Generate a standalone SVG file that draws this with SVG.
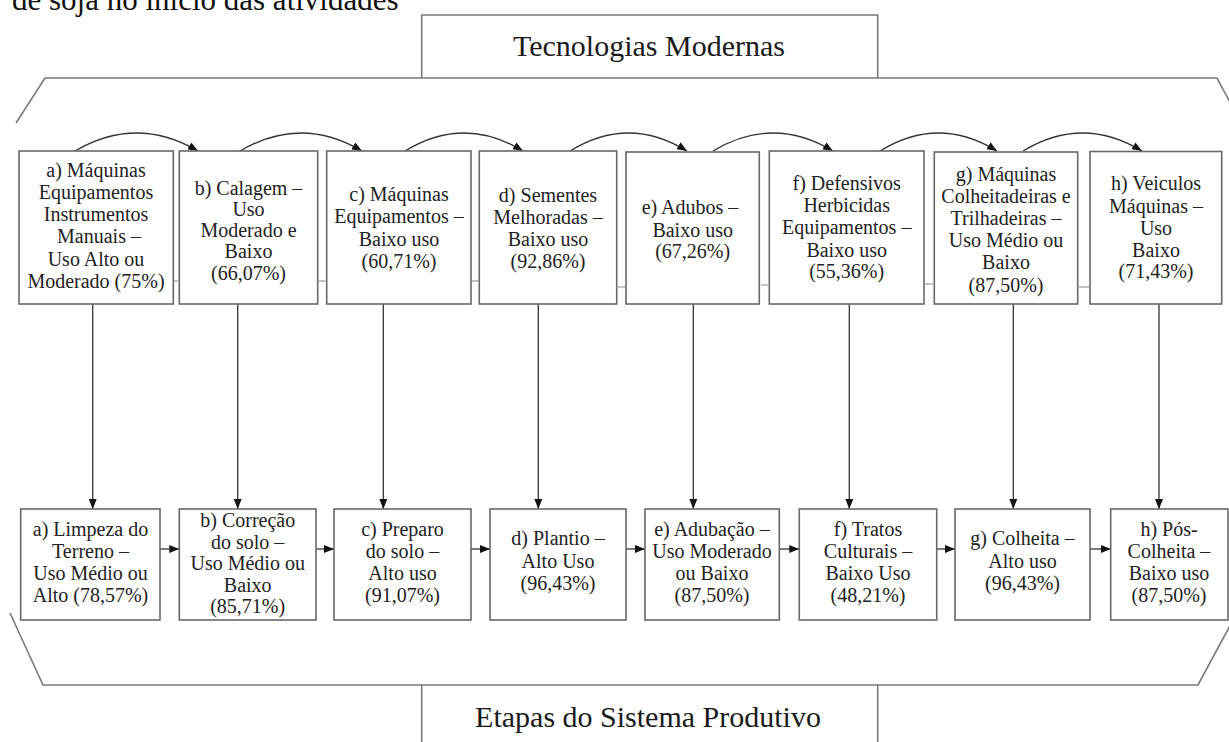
<svg xmlns="http://www.w3.org/2000/svg" width="1229" height="742" viewBox="0 0 1229 742">
  <defs>
    <style>
      .box { fill: #ffffff; stroke: #686868; stroke-width: 1.6; }
      .frame { fill: none; stroke: #7a7a7a; stroke-width: 1.6; }
      .t { font-family: "Liberation Serif", "Times New Roman", "DejaVu Serif", serif; font-size: 20px; fill: #222222; text-anchor: middle; }
      .title { font-family: "Liberation Serif", "Times New Roman", "DejaVu Serif", serif; font-size: 30px; fill: #1a1a1a; text-anchor: middle; }
      .head { font-family: "Liberation Serif", "Times New Roman", "DejaVu Serif", serif; font-size: 31px; fill: #111111; }
      .edge { fill: none; stroke: #333333; stroke-width: 1.3; }
      .stub { fill: none; stroke: #8a8a8a; stroke-width: 1; }
    </style>
    <marker id="arrow" viewBox="0 0 10 8" markerWidth="10" markerHeight="8" refX="10" refY="4" orient="auto" markerUnits="userSpaceOnUse">
      <path d="M0,0 L10,4 L0,8 z" fill="#111111"/>
    </marker>
  </defs>

  <rect width="1229" height="742" fill="#ffffff"/>

  <!-- caption line running off the top edge -->
  <text class="head" x="12" y="10">de soja no início das atividades</text>

  <!-- outer frame -->
  <g id="frame">
    <path class="frame" d="M16,123 L45,78 L1217,78 L1232,106"/>
    <path class="frame" d="M10,613 L43,685 L1198,685 L1232,622"/>
  </g>

  <!-- section titles -->
  <g id="title-top">
    <path class="frame" d="M421.7,78 L421.7,15 L877.7,15 L877.7,78"/>
    <text class="title" x="649" y="56">Tecnologias Modernas</text>
  </g>
  <g id="title-bottom">
    <path class="frame" d="M421.7,742 L421.7,685 M877.7,685 L877.7,742"/>
    <text class="title" x="648" y="727">Etapas do Sistema Produtivo</text>
  </g>

  <!-- connectors -->
  <g id="connectors">
    <!-- arcs between technology boxes -->
    <path class="edge" marker-end="url(#arrow)" d="M75,151 Q136.5,115 198,151"/>
    <path class="edge" marker-end="url(#arrow)" d="M240,151 Q301,115 362,151"/>
    <path class="edge" marker-end="url(#arrow)" d="M405,151 Q464,115 523,151"/>
    <path class="edge" marker-end="url(#arrow)" d="M570,151 Q628.5,115 687,151"/>
    <path class="edge" marker-end="url(#arrow)" d="M713,151 Q773,115 833,151"/>
    <path class="edge" marker-end="url(#arrow)" d="M880,151 Q938.5,115 997,151"/>
    <path class="edge" marker-end="url(#arrow)" d="M1023,151 Q1082.5,115 1142,151"/>

    <!-- short stubs between technology boxes -->
    <path class="stub" d="M174,281 L178.5,281 M319,281 L325.5,281 M472,281 L478.5,281 M618,287 L625,287 M761,285 L768,285 M925,284 L933,284 M1079,287 L1089,287"/>

    <!-- technology to stage -->
    <path class="edge" marker-end="url(#arrow)" d="M92.7,304 L92.7,509"/>
    <path class="edge" marker-end="url(#arrow)" d="M237.7,304 L237.7,509"/>
    <path class="edge" marker-end="url(#arrow)" d="M383.3,304 L383.3,509"/>
    <path class="edge" marker-end="url(#arrow)" d="M538.3,304 L538.3,509"/>
    <path class="edge" marker-end="url(#arrow)" d="M693.3,304 L693.3,509"/>
    <path class="edge" marker-end="url(#arrow)" d="M849.3,304 L849.3,509"/>
    <path class="edge" marker-end="url(#arrow)" d="M1013.3,304 L1013.3,509"/>
    <path class="edge" marker-end="url(#arrow)" d="M1159,304 L1159,509"/>

    <!-- stage sequence -->
    <path class="edge" marker-end="url(#arrow)" d="M160,549 L179.3,549"/>
    <path class="edge" marker-end="url(#arrow)" d="M316,549 L334,549"/>
    <path class="edge" marker-end="url(#arrow)" d="M471,549 L490,549"/>
    <path class="edge" marker-end="url(#arrow)" d="M626,549 L645,549"/>
    <path class="edge" marker-end="url(#arrow)" d="M779.3,549 L799.3,549"/>
    <path class="edge" marker-end="url(#arrow)" d="M936.7,549 L955,549"/>
    <path class="edge" marker-end="url(#arrow)" d="M1090,549 L1110.7,549"/>
  </g>

  <!-- technology boxes -->
  <g id="tec-a">
    <rect class="box" x="19" y="151" width="154.3" height="153"/>
    <text class="t"><tspan x="96" y="176.5">a) Máquinas</tspan><tspan x="96" y="198.8">Equipamentos</tspan><tspan x="96" y="221.1">Instrumentos</tspan><tspan x="99" y="243.4">Manuais –</tspan><tspan x="96" y="265.7">Uso Alto ou</tspan><tspan x="96" y="288">Moderado (75%)</tspan></text>
  </g>
  <g id="tec-b">
    <rect class="box" x="179.3" y="151" width="138.4" height="153"/>
    <text class="t"><tspan x="248.5" y="194.5">b) Calagem –</tspan><tspan x="248.5" y="215.5">Uso</tspan><tspan x="248.5" y="236.7">Moderado e</tspan><tspan x="248.5" y="258">Baixo</tspan><tspan x="248.5" y="279.5">(66,07%)</tspan></text>
  </g>
  <g id="tec-c">
    <rect class="box" x="326.7" y="151" width="144.3" height="153"/>
    <text class="t"><tspan x="399" y="201">c) Máquinas</tspan><tspan x="399" y="223">Equipamentos –</tspan><tspan x="399" y="246">Baixo uso</tspan><tspan x="399" y="268">(60,71%)</tspan></text>
  </g>
  <g id="tec-d">
    <rect class="box" x="479.3" y="151" width="137.4" height="153"/>
    <text class="t"><tspan x="548" y="202">d) Sementes</tspan><tspan x="548" y="224">Melhoradas –</tspan><tspan x="548" y="246">Baixo uso</tspan><tspan x="548" y="268">(92,86%)</tspan></text>
  </g>
  <g id="tec-e">
    <rect class="box" x="626" y="152" width="133.3" height="152"/>
    <text class="t"><tspan x="690" y="214">e) Adubos –</tspan><tspan x="692.7" y="236.5">Baixo uso</tspan><tspan x="692.7" y="258">(67,26%)</tspan></text>
  </g>
  <g id="tec-f">
    <rect class="box" x="769.3" y="151" width="154.7" height="153"/>
    <text class="t"><tspan x="846.7" y="190">f) Defensivos</tspan><tspan x="846.7" y="212">Herbicidas</tspan><tspan x="846.7" y="234">Equipamentos –</tspan><tspan x="846.7" y="256.5">Baixo uso</tspan><tspan x="846.7" y="278">(55,36%)</tspan></text>
  </g>
  <g id="tec-g">
    <rect class="box" x="934.3" y="152" width="143.4" height="152"/>
    <text class="t"><tspan x="1006" y="181">g) Máquinas</tspan><tspan x="1006" y="203">Colheitadeiras e</tspan><tspan x="1006" y="225">Trilhadeiras –</tspan><tspan x="1006" y="247">Uso Médio ou</tspan><tspan x="1006" y="269">Baixo</tspan><tspan x="1006" y="291.5">(87,50%)</tspan></text>
  </g>
  <g id="tec-h">
    <rect class="box" x="1090" y="151.5" width="131.7" height="152.5"/>
    <text class="t"><tspan x="1156" y="190">h) Veiculos</tspan><tspan x="1156" y="212.5">Máquinas –</tspan><tspan x="1156" y="235">Uso</tspan><tspan x="1156" y="256.5">Baixo</tspan><tspan x="1156" y="278">(71,43%)</tspan></text>
  </g>

  <!-- production stage boxes -->
  <g id="etapa-a">
    <rect class="box" x="20.7" y="509" width="139.3" height="111"/>
    <text class="t"><tspan x="90.5" y="536">a) Limpeza do</tspan><tspan x="90.5" y="558">Terreno –</tspan><tspan x="90.5" y="580">Uso Médio ou</tspan><tspan x="90.5" y="602">Alto (78,57%)</tspan></text>
  </g>
  <g id="etapa-b">
    <rect class="box" x="179.3" y="509" width="136.7" height="111"/>
    <text class="t"><tspan x="247.7" y="527">b) Correção</tspan><tspan x="247.7" y="548.5">do solo –</tspan><tspan x="247.7" y="570">Uso Médio ou</tspan><tspan x="247.7" y="591.5">Baixo</tspan><tspan x="247.7" y="613">(85,71%)</tspan></text>
  </g>
  <g id="etapa-c">
    <rect class="box" x="334" y="509" width="137" height="111"/>
    <text class="t"><tspan x="402.5" y="536">c) Preparo</tspan><tspan x="402.5" y="558">do solo –</tspan><tspan x="402.5" y="580">Alto uso</tspan><tspan x="402.5" y="601.7">(91,07%)</tspan></text>
  </g>
  <g id="etapa-d">
    <rect class="box" x="490" y="509" width="136" height="111"/>
    <text class="t"><tspan x="558" y="545">d) Plantio –</tspan><tspan x="558" y="567.5">Alto Uso</tspan><tspan x="558" y="590">(96,43%)</tspan></text>
  </g>
  <g id="etapa-e">
    <rect class="box" x="645" y="509" width="134.3" height="111"/>
    <text class="t"><tspan x="712" y="536">e) Adubação –</tspan><tspan x="712" y="558">Uso Moderado</tspan><tspan x="712" y="580">ou Baixo</tspan><tspan x="712" y="602">(87,50%)</tspan></text>
  </g>
  <g id="etapa-f">
    <rect class="box" x="799.3" y="509" width="137.4" height="111"/>
    <text class="t"><tspan x="868" y="536">f) Tratos</tspan><tspan x="868" y="558">Culturais –</tspan><tspan x="868" y="580">Baixo Uso</tspan><tspan x="868" y="602">(48,21%)</tspan></text>
  </g>
  <g id="etapa-g">
    <rect class="box" x="955" y="509" width="135" height="111"/>
    <text class="t"><tspan x="1022.5" y="545">g) Colheita –</tspan><tspan x="1022.5" y="567.5">Alto uso</tspan><tspan x="1022.5" y="590">(96,43%)</tspan></text>
  </g>
  <g id="etapa-h">
    <rect class="box" x="1110.7" y="509" width="117.3" height="111"/>
    <text class="t"><tspan x="1169" y="536">h) Pós-</tspan><tspan x="1169" y="558">Colheita –</tspan><tspan x="1169" y="580">Baixo uso</tspan><tspan x="1169" y="602">(87,50%)</tspan></text>
  </g>
</svg>
